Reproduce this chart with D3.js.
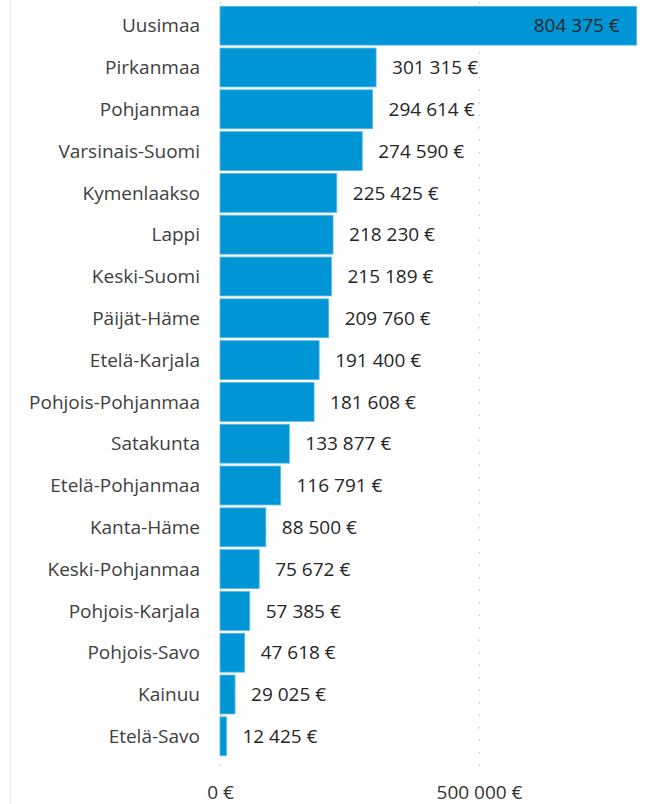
<!DOCTYPE html>
<html>
<head>
<meta charset="utf-8">
<script src="https://cdn.jsdelivr.net/npm/d3@7"></script>
<style>
  html, body { margin: 0; padding: 0; background: #fff; }
  svg { display: block; }
  text { font-family: "Open Sans", "Noto Sans", sans-serif; }
</style>
</head>
<body>
<svg id="chart" width="651" height="804"></svg>
<script>
const categories = ["Uusimaa","Pirkanmaa","Pohjanmaa","Varsinais-Suomi","Kymenlaakso","Lappi","Keski-Suomi","Päijät-Häme","Etelä-Karjala","Pohjois-Pohjanmaa","Satakunta","Etelä-Pohjanmaa","Kanta-Häme","Keski-Pohjanmaa","Pohjois-Karjala","Pohjois-Savo","Kainuu","Etelä-Savo"];
const values = [804375,301315,294614,274590,225425,218230,215189,209760,191400,181608,133877,116791,88500,75672,57385,47618,29025,12425];
const tickValues = [0, 500000];

const fmt = v => d3.format(",")(v).replace(/,/g, " ") + " €";

const svg = d3.select("#chart");
const W = 651, H = 804;
const FS = 19;

const x = d3.scaleLinear().domain([0, 500000]).range([220, 479]);
const y = d3.scaleBand().domain(categories).range([5, 757]).paddingInner(0.07).paddingOuter(0.03);

// left border
svg.append("line").attr("x1", 10.5).attr("x2", 10.5).attr("y1", 0).attr("y2", H)
  .attr("stroke", "#eeeeee").attr("stroke-width", 1);

// gridlines
svg.append("g").selectAll("line").data(tickValues).join("line")
  .attr("x1", d => x(d) + 0.5).attr("x2", d => x(d) + 0.5)
  .attr("y1", 2).attr("y2", 772)
  .attr("stroke", "#c8c8c8").attr("stroke-width", 1.5)
  .attr("stroke-dasharray", "1.5,11");

// axis
const axis = d3.axisBottom(x).tickValues(tickValues).tickSize(0).tickPadding(0).tickFormat(fmt);
const gAxis = svg.append("g").attr("transform", "translate(0,785)").call(axis);
gAxis.select(".domain").remove();
gAxis.selectAll("text").attr("font-size", FS).attr("fill", "#333").attr("font-family", "\"Open Sans\", sans-serif");

const data = categories.map((c, i) => ({c, v: values[i]}));

// bars
svg.append("g").selectAll("rect").data(data).join("rect")
  .attr("x", x(0))
  .attr("y", d => y(d.c))
  .attr("width", d => x(d.v) - x(0))
  .attr("height", y.bandwidth())
  .attr("fill", "#0096d6")
  .attr("stroke", "#5cb8e6").attr("stroke-width", 0.8);

// category labels
svg.append("g").selectAll("text").data(data).join("text")
  .attr("x", 200)
  .attr("y", d => y(d.c) + y.bandwidth() / 2)
  .attr("dy", "0.35em")
  .attr("text-anchor", "end")
  .attr("font-size", FS)
  .attr("fill", "#404040")
  .text(d => d.c);

// value labels
const inside = d => x(d.v) + 15 + 100 > W;
svg.append("g").selectAll("text").data(data).join("text")
  .attr("x", d => inside(d) ? x(d.v) - 17 : x(d.v) + 16)
  .attr("y", d => y(d.c) + y.bandwidth() / 2)
  .attr("dy", "0.35em")
  .attr("text-anchor", d => inside(d) ? "end" : "start")
  .attr("font-size", FS)
  .attr("fill", "#262626")
  .text(d => fmt(d.v));
</script>
</body>
</html>
